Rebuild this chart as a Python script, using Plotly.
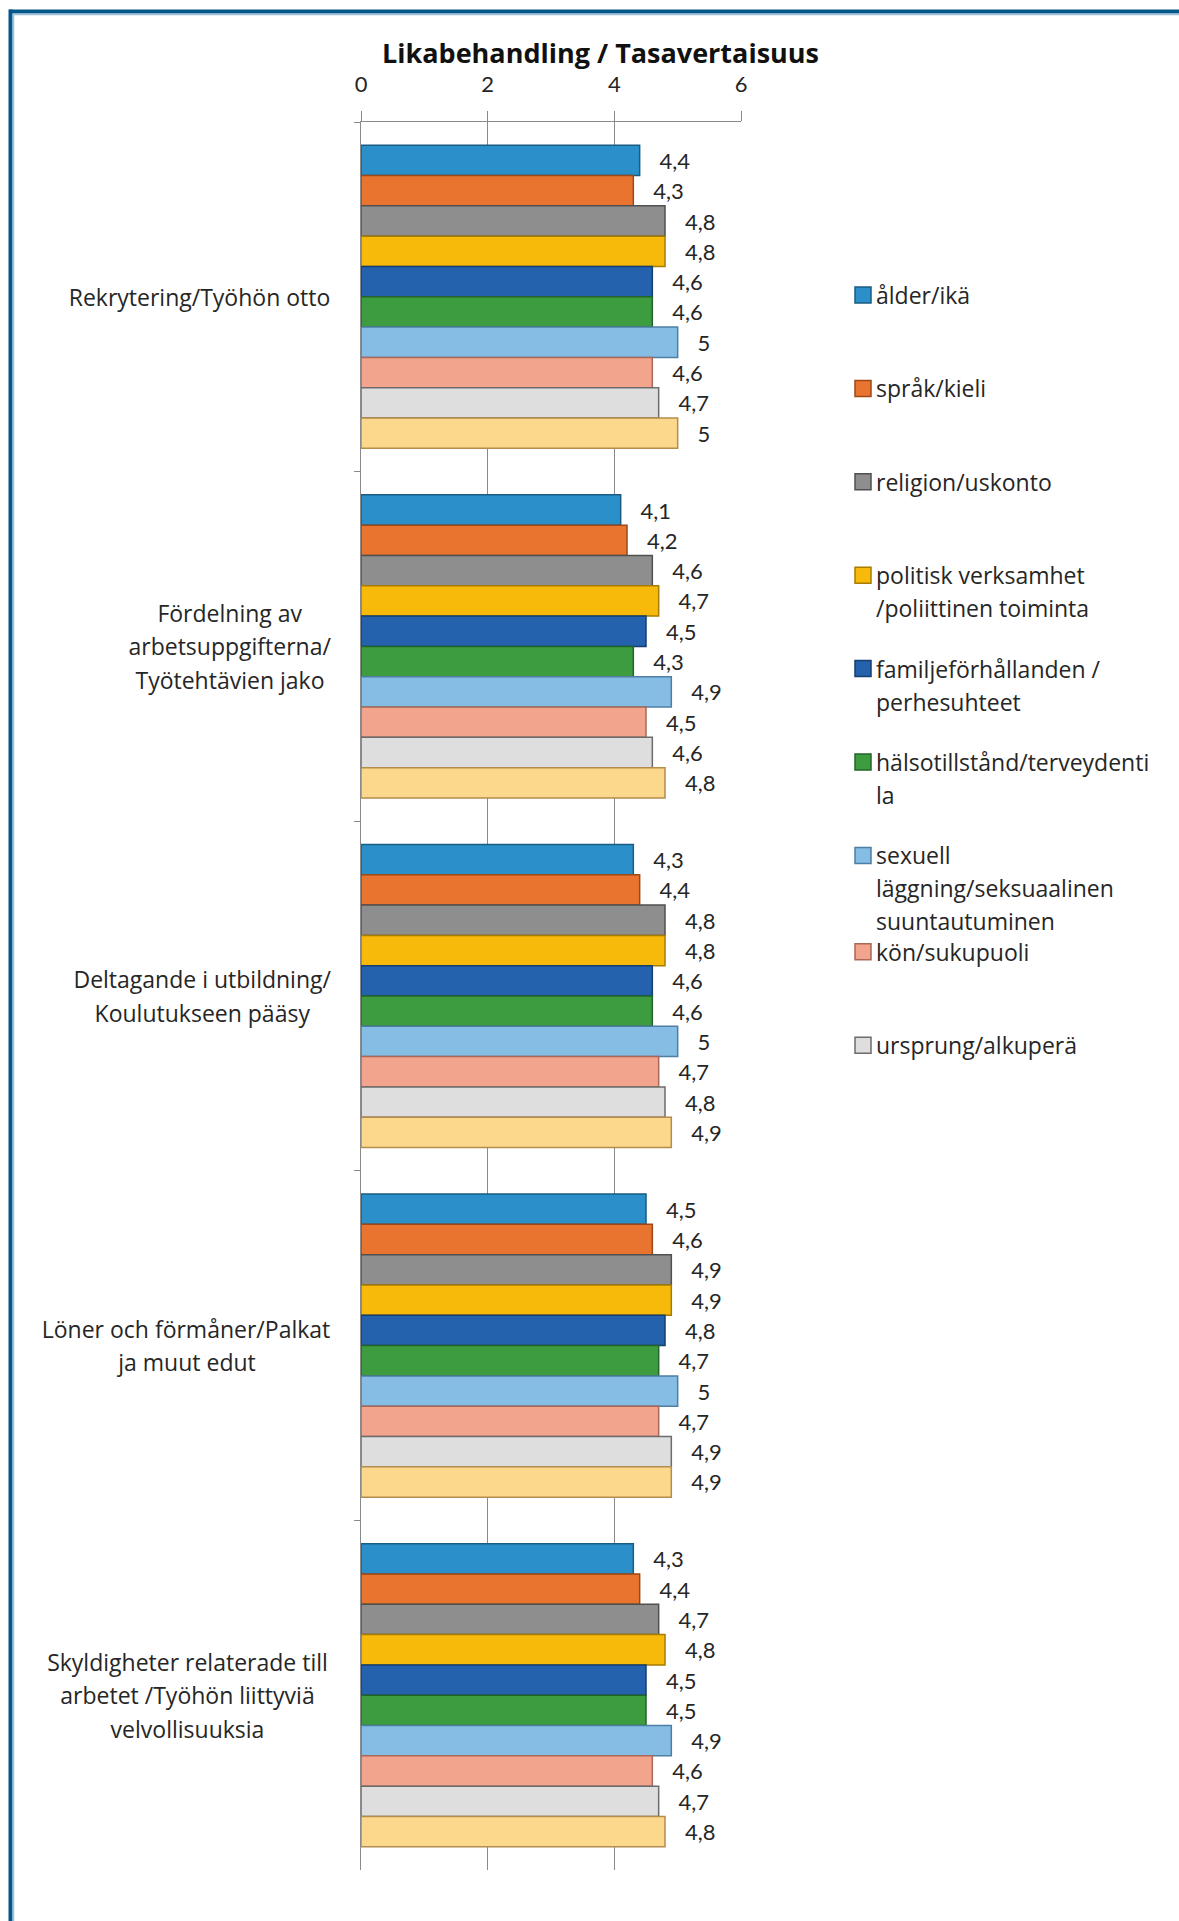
import plotly.graph_objects as go

# ---------------- data ----------------
categories = [
    "Rekrytering/Työhön otto",
    "Fördelning av arbetsuppgifterna/Työtehtävien jako",
    "Deltagande i utbildning/Koulutukseen pääsy",
    "Löner och förmåner/Palkat ja muut edut",
    "Skyldigheter relaterade till arbetet /Työhön liittyviä velvollisuuksia",
]
category_lines = [
    ["Rekrytering/Työhön otto"],
    ["Fördelning av", "arbetsuppgifterna/", "Työtehtävien jako"],
    ["Deltagande i utbildning/", "Koulutukseen pääsy"],
    ["Löner och förmåner/Palkat", "ja muut edut"],
    ["Skyldigheter relaterade till", "arbetet /Työhön liittyviä", "velvollisuuksia"],
]
series_names = [
    "ålder/ikä",
    "språk/kieli",
    "religion/uskonto",
    "politisk verksamhet /poliittinen toiminta",
    "familjeförhållanden / perhesuhteet",
    "hälsotillstånd/terveydentila",
    "sexuell läggning/seksuaalinen suuntautuminen",
    "kön/sukupuoli",
    "ursprung/alkuperä",
    "serie 10",
]
legend_lines = [
    ["ålder/ikä"],
    ["språk/kieli"],
    ["religion/uskonto"],
    ["politisk verksamhet", "/poliittinen toiminta"],
    ["familjeförhållanden /", "perhesuhteet"],
    ["hälsotillstånd/terveydenti", "la"],
    ["sexuell", "läggning/seksuaalinen", "suuntautuminen"],
    ["kön/sukupuoli"],
    ["ursprung/alkuperä"],
]
alder = [4.4, 4.1, 4.3, 4.5, 4.3]
sprak = [4.3, 4.2, 4.4, 4.6, 4.4]
religion = [4.8, 4.6, 4.8, 4.9, 4.7]
politisk = [4.8, 4.7, 4.8, 4.9, 4.8]
familj = [4.6, 4.5, 4.6, 4.8, 4.5]
halsa = [4.6, 4.3, 4.6, 4.7, 4.5]
sexuell = [5.0, 4.9, 5.0, 5.0, 4.9]
kon = [4.6, 4.5, 4.7, 4.7, 4.6]
ursprung = [4.7, 4.6, 4.8, 4.9, 4.7]
serie10 = [5.0, 4.8, 4.9, 4.9, 4.8]
series_values = [alder, sprak, religion, politisk, familj, halsa, sexuell, kon, ursprung, serie10]
x_ticks = [0, 2, 4, 6]

# ---------------- styles ----------------
fills = ["#2b90c9", "#e8742f", "#8e8e8e", "#f7b90a", "#2462ad", "#3d9c40",
         "#86bde4", "#f2a48c", "#dedede", "#fcd88c"]
edges = ["#1a5c83", "#9c4818", "#505050", "#a87c00", "#153f70", "#23642a",
         "#4e7fa3", "#a9685a", "#6c6c6c", "#b48c4c"]

W, H = 1179, 1921
ML, MR, MT, MB = 361, 438, 122, 51
PW, PH = W - ML - MR, H - MT - MB
NUMFONT = "Lato"
FONT = "Open Sans"
TXT = "#262626"
LABEL_SIZE = 23


def px2x(px):
    return (px - ML) / PW


def px2y(py):
    return (H - MB - py) / PH


fig = go.Figure()
for name, vals, fc, ec in zip(series_names, series_values, fills, edges):
    fig.add_trace(go.Bar(
        y=categories, x=vals, name=name, orientation="h",
        marker=dict(color=fc, line=dict(color=ec, width=1.5)),
        text=["\u00a0\u00a0\u00a0" + f"{v:g}".replace(".", ",") for v in vals],
        textposition="outside", constraintext="none", cliponaxis=False,
        textfont=dict(family=NUMFONT, size=22, color=TXT),
        showlegend=False,
    ))

annotations = []
# title
annotations.append(dict(
    text="<b>Likabehandling / Tasavertaisuus</b>", x=px2x(600), y=px2y(53),
    xref="paper", yref="paper", xanchor="center", yanchor="middle",
    showarrow=False, font=dict(family=FONT, size=27, color="#111111")))

# category labels (lines centred within a right-aligned block)
block_widths = [271, 210, 265, 298, 295]
line_gap = 33.5
for cat, lines, bw in zip(categories, category_lines, block_widths):
    n = len(lines)
    for i, ln in enumerate(lines):
        annotations.append(dict(
            text=ln, x=px2x(337), y=cat, xref="paper", yref="y",
            xanchor="right", yanchor="middle", align="center", width=bw,
            yshift=-(i - (n - 1) / 2) * line_gap, showarrow=False,
            font=dict(family=FONT, size=LABEL_SIZE, color=TXT)))

# legend (manual, Excel-like fixed slots)
shapes = []
leg_top, leg_pitch, leg_line = 295, 93.4, 33
for k, lines in enumerate(legend_lines):
    y0 = leg_top + k * leg_pitch + (3 if k >= 7 else 0)
    shapes.append(dict(type="rect", xref="paper", yref="paper",
                       x0=px2x(855), x1=px2x(871), y0=px2y(y0 - 8), y1=px2y(y0 + 8),
                       fillcolor=fills[k], line=dict(color=edges[k], width=1.5)))
    for i, ln in enumerate(lines):
        annotations.append(dict(
            text=ln, x=px2x(874), y=px2y(y0 + i * leg_line), xref="paper", yref="paper",
            xanchor="left", yanchor="middle", showarrow=False,
            font=dict(family=FONT, size=LABEL_SIZE, color=TXT)))

# outer frame (top and left)
shapes.append(dict(type="line", xref="paper", yref="paper", x0=px2x(9), x1=px2x(W + 5),
                   y0=px2y(11.5), y1=px2y(11.5), line=dict(color="#03578a", width=4)))
shapes.append(dict(type="line", xref="paper", yref="paper", x0=px2x(13), x1=px2x(W + 5),
                   y0=px2y(14.5), y1=px2y(14.5), line=dict(color="#9cc2dc", width=1.5)))
shapes.append(dict(type="line", xref="paper", yref="paper", x0=px2x(10.5), x1=px2x(10.5),
                   y0=px2y(9.5), y1=px2y(H + 5), line=dict(color="#03578a", width=4)))
shapes.append(dict(type="line", xref="paper", yref="paper", x0=px2x(13.5), x1=px2x(13.5),
                   y0=px2y(13.5), y1=px2y(H + 5), line=dict(color="#9cc2dc", width=1.5)))

fig.update_layout(
    width=W, height=H,
    margin=dict(l=ML, r=MR, t=MT, b=MB, pad=0),
    paper_bgcolor="white", plot_bgcolor="white",
    barmode="group", bargap=0.133, bargroupgap=0,
    showlegend=False,
    annotations=annotations, shapes=shapes,
    font=dict(family=FONT, size=21, color=TXT),
    xaxis=dict(side="top", range=[0, 6], tickvals=x_ticks,
               showgrid=True, gridcolor="#8a8a8a", gridwidth=1,
               showline=True, linecolor="#8a8a8a", linewidth=1,
               ticks="outside", ticklen=10, tickcolor="#8a8a8a",
               ticklabelstandoff=10, zeroline=False,
               tickfont=dict(family=NUMFONT, size=22, color=TXT), fixedrange=True),
    yaxis=dict(categoryorder="array", categoryarray=categories, autorange="reversed",
               showticklabels=False, ticks="outside", tickson="boundaries",
               ticklen=6, tickcolor="#8a8a8a", showline=True, linecolor="#8a8a8a",
               linewidth=1, showgrid=False, zeroline=False, fixedrange=True),
)

fig.write_html("out.html")
